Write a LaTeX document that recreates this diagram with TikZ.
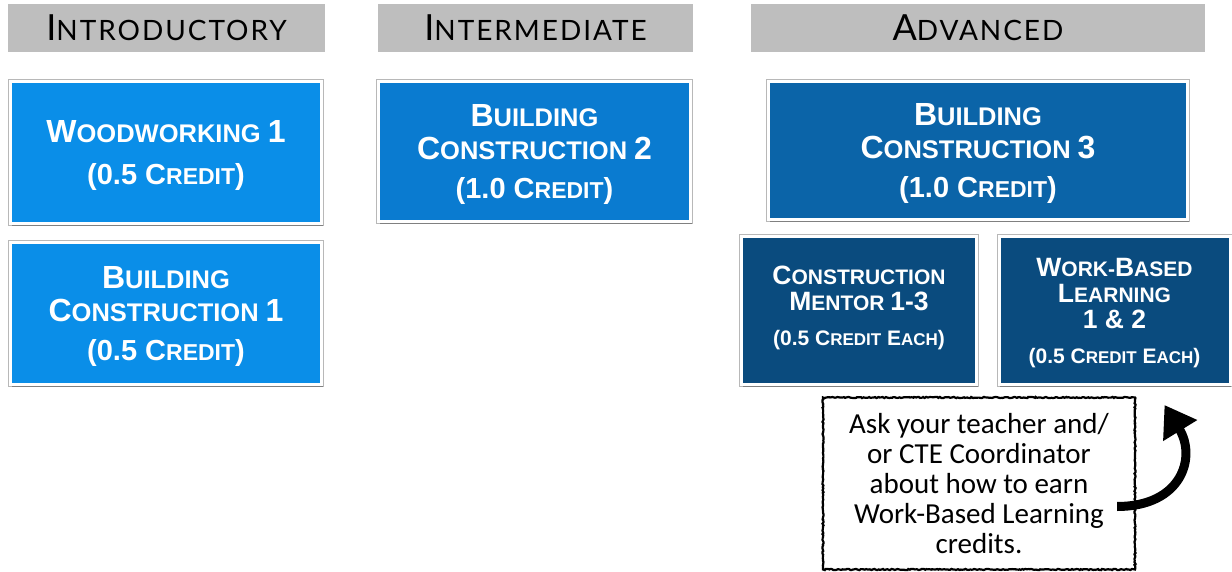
\documentclass[tikz,border=0pt]{standalone}
\usepackage{fontspec}
\newfontfamily\boxfont{Liberation Sans}
\newfontfamily\headfont{Lato}[LetterSpace=7]
\newfontfamily\notefont{Carlito}
\usetikzlibrary{shadows,arrows.meta,decorations.pathmorphing,calc}
\definecolor{hgray}{RGB}{190,190,190}
\definecolor{cIntro}{RGB}{10,142,232}
\definecolor{cInter}{RGB}{10,123,208}
\definecolor{cAdv}{RGB}{11,100,168}
\definecolor{cDeep}{RGB}{10,75,126}
\newcommand\fs[1]{\fontsize{#1}{#1}\selectfont}
\tikzset{
  header/.style={fill=hgray, inner sep=0pt, minimum height=48pt, font=\headfont},
  course/.style={draw=white, line width=3pt, inner sep=2pt, align=center, text=white,
    text depth=0pt,
    preaction={draw=black!28, line width=4.6pt},
    drop shadow={shadow xshift=1.2pt, shadow yshift=-2.2pt, opacity=0.3, fill=black}},
  bigcourse/.style={course, font=\boxfont\bfseries\fontsize{25}{33}\selectfont},
  smallcourse/.style={course, font=\boxfont\bfseries\fontsize{21}{26}\selectfont},
  notebox/.style={draw=black, line width=2.2pt, fill=white, align=center,
    decorate, decoration={random steps, segment length=1.5pt, amplitude=0.6pt},
    font=\notefont\fontsize{29}{30}\selectfont, inner sep=0pt},
  bigarrow/.style={line width=9pt, -{Triangle[length=30pt,width=38pt]}}
}
\begin{document}
\begin{tikzpicture}[x=1pt,y=1pt]
\useasboundingbox (0,0) rectangle (1232,571);
% headers
\node[header, minimum width=317pt] (h1) at (166.5,543) {{\fs{36}I}{\fs{28}NTRODUCTORY}};
\node[header, minimum width=315pt] (h2) at (535.5,543) {{\fs{36}I}{\fs{28}NTERMEDIATE}};
\node[header, minimum width=454pt] (h3) at (978,543) {{\fs{36}A}{\fs{28}DVANCED}};
% introductory
\node[bigcourse, fill=cIntro, minimum width=311pt, minimum height=142pt] (ww) at (166,418.5)
 {{\fs{32}W}{\fs{25.5}OODWORKING} {\fs{32}1}\\[9pt]{\fs{29}(0.5 C}{\fs{23}REDIT}{\fs{29})}};
\node[bigcourse, fill=cIntro, minimum width=311pt, minimum height=142pt] (bc1) at (166,257.5)
 {{\fs{32}B}{\fs{25.5}UILDING}\\{\fs{32}C}{\fs{25.5}ONSTRUCTION} {\fs{32}1}\\[6pt]{\fs{29}(0.5 C}{\fs{23}REDIT}{\fs{29})}};
% intermediate
\node[bigcourse, fill=cInter, minimum width=312pt, minimum height=140pt] (bc2) at (534.5,419.5)
 {{\fs{32}B}{\fs{25.5}UILDING}\\{\fs{32}C}{\fs{25.5}ONSTRUCTION} {\fs{32}2}\\[6pt]{\fs{29}(1.0 C}{\fs{23}REDIT}{\fs{29})}};
% advanced
\node[bigcourse, fill=cAdv, minimum width=419pt, minimum height=138pt] (bc3) at (978,420.5)
 {{\fs{32}B}{\fs{25.5}UILDING}\\{\fs{32}C}{\fs{25.5}ONSTRUCTION} {\fs{32}3}\\[6pt]{\fs{29}(1.0 C}{\fs{23}REDIT}{\fs{29})}};
\node[smallcourse, fill=cDeep, minimum width=235pt, minimum height=148pt] (cm) at (859,260.5)
 {{\fs{26.5}C}{\fs{21}ONSTRUCTION}\\{\fs{26.5}M}{\fs{21}ENTOR} {\fs{26.5}1-3}\\[9pt]{\fs{21}(0.5 C}{\fs{17}REDIT} {\fs{21}E}{\fs{17}ACH}{\fs{21})}\\[-16pt]{}};
\node[smallcourse, fill=cDeep, minimum width=231pt, minimum height=148pt] (wbl) at (1114.5,260.5)
 {{\fs{26.5}W}{\fs{21}ORK-}{\fs{26.5}B}{\fs{21}ASED}\\{\fs{26.5}L}{\fs{21}EARNING}\\{\fs{26.5}1 \& 2}\\[9pt]{\fs{21}(0.5 C}{\fs{17}REDIT} {\fs{21}E}{\fs{17}ACH}{\fs{21})}};
% note
\node[notebox, minimum width=312pt, minimum height=172pt] (note) at (979,87.5)
 {Ask your teacher and/\\or CTE Coordinator\\about how to earn\\Work-Based Learning\\credits.};
\coordinate (tail) at ($(note.east)+(-19,-23)$);
\coordinate (tip) at ($(wbl.south)+(50,-19)$);
\draw[bigarrow] (tail) .. controls +(65,0) and +(32,-52) .. (tip);
\end{tikzpicture}
\end{document}
